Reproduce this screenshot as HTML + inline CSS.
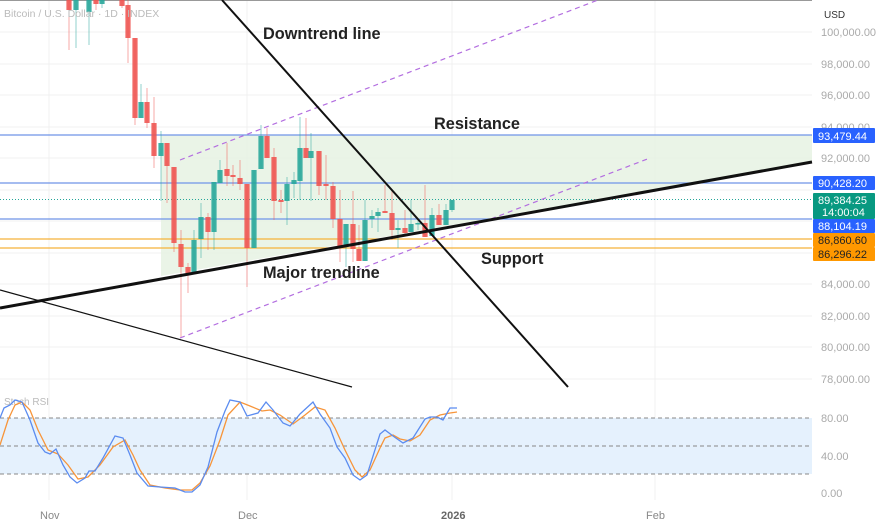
<!DOCTYPE html>
<html><head><meta charset="utf-8"><style>
body{margin:0;background:#fff;width:883px;height:522px;overflow:hidden;font-family:"Liberation Sans",sans-serif}
svg{position:absolute;left:0;top:0}
</style></head><body>
<svg id="s" width="883" height="522" xmlns="http://www.w3.org/2000/svg" font-family="Liberation Sans, sans-serif">
<g stroke="#f0f0f0" stroke-width="1">
<line x1="49" y1="0" x2="49" y2="500"/><line x1="247" y1="0" x2="247" y2="500"/><line x1="452" y1="0" x2="452" y2="500"/><line x1="655" y1="0" x2="655" y2="500"/>
<line x1="0" y1="32" x2="812" y2="32"/><line x1="0" y1="64" x2="812" y2="64"/><line x1="0" y1="95" x2="812" y2="95"/><line x1="0" y1="127" x2="812" y2="127"/><line x1="0" y1="158" x2="812" y2="158"/><line x1="0" y1="190" x2="812" y2="190"/><line x1="0" y1="221" x2="812" y2="221"/><line x1="0" y1="253" x2="812" y2="253"/><line x1="0" y1="284" x2="812" y2="284"/><line x1="0" y1="316" x2="812" y2="316"/><line x1="0" y1="347" x2="812" y2="347"/><line x1="0" y1="379" x2="812" y2="379"/>
</g>
<line x1="0" y1="0.5" x2="812" y2="0.5" stroke="#999"/>
<polygon points="161,135 812,135 812,162 161,276" fill="#e6f2e3" opacity="0.85"/>
<line x1="0" y1="135" x2="812" y2="135" stroke="#6f94e8" stroke-width="1.3"/>
<line x1="0" y1="183" x2="812" y2="183" stroke="#6f94e8" stroke-width="1.3"/>
<line x1="0" y1="219" x2="812" y2="219" stroke="#6f94e8" stroke-width="1.3"/>
<line x1="0" y1="239" x2="812" y2="239" stroke="#f5b23a" stroke-width="1.3"/>
<line x1="0" y1="248" x2="812" y2="248" stroke="#f5b23a" stroke-width="1.3"/>
<line x1="0" y1="199.5" x2="812" y2="199.5" stroke="#26a69a" stroke-width="1" stroke-dasharray="1,2"/>
<g id="c"></g>
<line x1="180" y1="160" x2="598" y2="0" stroke="#b36ee0" stroke-width="1.2" stroke-dasharray="5,4"/>
<line x1="180" y1="338" x2="650" y2="158" stroke="#b36ee0" stroke-width="1.2" stroke-dasharray="5,4"/>
<line x1="222" y1="0" x2="568" y2="387" stroke="#111" stroke-width="2"/>
<line x1="0" y1="308" x2="812" y2="162" stroke="#111" stroke-width="3"/>
<line x1="0" y1="290" x2="352" y2="387" stroke="#111" stroke-width="1.2"/>
<g font-weight="bold" font-size="16.3" fill="#222">
<text x="263" y="39">Downtrend line</text>
<text x="434" y="129">Resistance</text>
<text x="481" y="264">Support</text>
<text x="263" y="278">Major trendline</text>
</g>
<text x="4" y="17" font-size="10.5" fill="#bbb">Bitcoin / U.S. Dollar · 1D · INDEX</text>
<g font-size="11" fill="#aaa">
<text x="821" y="36">100,000.00</text><text x="821" y="68">98,000.00</text><text x="821" y="99">96,000.00</text><text x="821" y="131">94,000.00</text><text x="821" y="162">92,000.00</text><text x="821" y="288">84,000.00</text><text x="821" y="320">82,000.00</text><text x="821" y="351">80,000.00</text><text x="821" y="383">78,000.00</text>
<text x="821" y="422">80.00</text><text x="821" y="460">40.00</text><text x="821" y="497">0.00</text>
</g>
<text x="824" y="18" font-size="10" fill="#333">USD</text>
<g font-size="11" fill="#fff">
<rect x="813" y="128" width="62" height="15" fill="#2962ff" rx="1"/><text x="818" y="140">93,479.44</text>
<rect x="813" y="176" width="62" height="14" fill="#2962ff" rx="1"/><text x="818" y="187">90,428.20</text>
<rect x="813" y="193" width="62" height="26" fill="#089981" rx="1"/><text x="818" y="204">89,384.25</text><text x="822" y="216">14:00:04</text>
<rect x="813" y="219" width="62" height="14" fill="#2962ff" rx="1"/><text x="818" y="230">88,104.19</text>
<rect x="813" y="233" width="62" height="14" fill="#ff9800" rx="1"/><text x="818" y="244" fill="#222">86,860.60</text>
<rect x="813" y="247" width="62" height="14" fill="#ff9800" rx="1"/><text x="818" y="258" fill="#222">86,296.22</text>
</g>
<rect x="0" y="418" width="812" height="56" fill="#e5f1fd"/>
<g stroke="#888" stroke-dasharray="4,3" stroke-width="1">
<line x1="0" y1="418" x2="812" y2="418"/><line x1="0" y1="446" x2="812" y2="446"/><line x1="0" y1="474" x2="812" y2="474"/>
</g>
<text x="4" y="405" font-size="10" fill="#bbb">Stoch RSI</text>
<polyline fill="none" stroke="#f7953a" stroke-width="1.3" points="0,445 8,420 15,405 22,402 30,410 38,430 48,450 58,454 68,465 78,479 88,477 100,465 113,447 125,440 133,455 140,470 150,485 165,488 180,490 192,490 200,483 210,466 220,440 228,415 240,402 250,406 262,411 270,410 280,415 293,424 305,415 315,407 325,410 335,428 345,450 355,470 362,477 370,470 380,448 385,438 393,435 400,439 410,441 420,435 430,420 440,415 450,413 457,412"/>
<polyline fill="none" stroke="#5b8cf0" stroke-width="1.3" points="0,418 4,408 10,405 15,400 22,402 30,420 38,443 45,452 50,454 56,449 63,465 70,477 77,483 85,478 89,471 95,471 103,458 115,436 123,438 130,455 137,473 148,486 160,487 175,488 185,492 192,492 200,485 208,467 217,432 225,411 230,400 240,402 247,416 258,413 266,402 273,410 283,423 290,426 300,414 313,402 320,414 330,428 337,447 345,458 353,475 360,480 367,475 380,434 385,430 393,436 403,443 413,438 425,419 430,417 437,417 443,420 450,408 457,408"/>
<g font-size="11" fill="#888">
<text x="40" y="519">Nov</text><text x="238" y="519">Dec</text><text x="441" y="519" font-weight="bold" fill="#666">2026</text><text x="646" y="519">Feb</text>
</g>
</svg>
<script>
var d=[[69,0,10,0,50],[76,10,0,0,48],[89,12,0,0,45],[96,0,4,0,10],[102,4,0,0,8],[122,0,6,0,8],[128,5,38,0,63],[135,38,118,38,125],[141,118,102,84,118],[147,102,123,88,128],[154,123,156,97,168],[161,156,143,131,201],[167,143,166,143,203],[174,167,243,167,252],[181,244,267,230,338],[188,267,273,263,293],[194,272,240,230,272],[201,239,217,203,258],[208,217,232,213,250],[214,232,182,182,250],[220,183,170,160,183],[227,169,176,143,186],[233,175,177,165,186],[240,178,184,160,190],[247,184,248,184,287],[254,248,170,170,248],[261,169,136,125,169],[267,136,158,128,158],[274,157,201,148,220],[281,200,202,190,213],[287,201,184,177,225],[294,184,180,172,198],[300,181,148,117,200],[306,148,158,118,158],[311,158,151,133,201],[319,151,186,151,195],[326,184,186,155,200],[333,186,219,182,228],[340,219,246,190,262],[346,246,224,224,267],[353,224,249,191,262],[359,249,261,225,261],[365,261,220,200,261],[372,219,216,210,228],[378,216,212,208,232],[385,211,213,185,213],[392,213,230,190,240],[398,230,228,220,248],[405,228,233,210,236],[411,232,224,200,232],[418,224,223,220,230],[425,223,237,185,237],[432,236,215,208,236],[439,215,225,204,225],[446,225,210,204,225],[452,210,200,200,212]];
var g=document.getElementById('c'),h='';
d.forEach(function(c){var x=c[0],o=c[1],cl=c[2],up=cl<o,col=up?'#26a69a':'#ef5350';
var t=Math.min(o,cl),b=Math.max(o,cl);if(b-t<1.5){b=t+1.5;}
h+='<line x1="'+x+'" y1="'+c[3]+'" x2="'+x+'" y2="'+c[4]+'" stroke="'+col+'" stroke-opacity="0.5" stroke-width="1"/>';
h+='<rect x="'+(x-2.6)+'" y="'+t+'" width="5.2" height="'+(b-t)+'" fill="'+col+'" fill-opacity="0.88"/>';});
g.innerHTML=h;
</script>
</body></html>
